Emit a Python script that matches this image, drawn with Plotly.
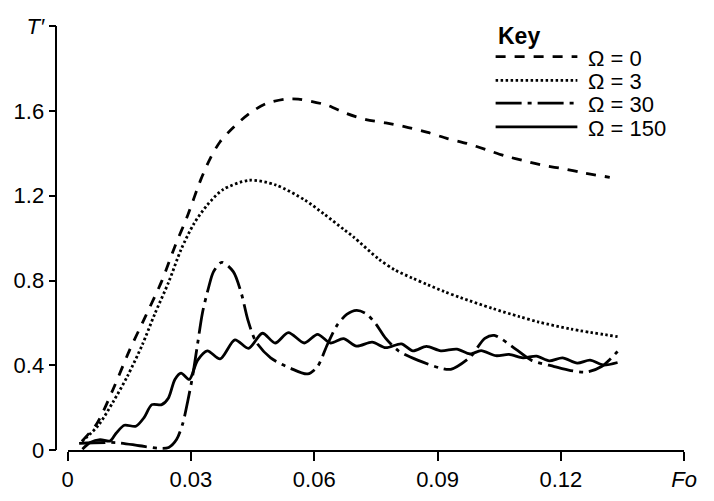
import plotly.graph_objects as go

# Fourier number (Fo) and dimensionless temperature (T') for each rotation rate
fo_omega0 = [0.0035, 0.0071, 0.0111, 0.0150, 0.0190, 0.0229, 0.0261, 0.0292, 0.0324, 0.0348,
             0.0371, 0.0403, 0.0442, 0.0482, 0.0529, 0.0561, 0.0592, 0.0632, 0.0679, 0.0726,
             0.0774, 0.0829, 0.0876, 0.0924, 0.0971, 0.1019, 0.1066, 0.1113, 0.1161, 0.1208,
             0.1255, 0.1319]
t_omega0 = [0.042, 0.124, 0.288, 0.468, 0.633, 0.797, 0.961, 1.107, 1.276, 1.380,
            1.455, 1.522, 1.588, 1.634, 1.656, 1.656, 1.646, 1.627, 1.588, 1.559,
            1.544, 1.522, 1.499, 1.470, 1.447, 1.417, 1.387, 1.364, 1.342, 1.327,
            1.308, 1.287]

fo_omega3 = [0.0035, 0.0075, 0.0111, 0.0146, 0.0182, 0.0212, 0.0246, 0.0276, 0.0307, 0.0340,
             0.0378, 0.0442, 0.0506, 0.0577, 0.0625, 0.0672, 0.0696, 0.0757, 0.0797, 0.0838,
             0.0876, 0.0916, 0.0956, 0.1034, 0.1098, 0.1146, 0.1224, 0.1338]
t_omega3 = [0.040, 0.117, 0.228, 0.350, 0.498, 0.642, 0.793, 0.946, 1.067, 1.157,
            1.229, 1.273, 1.251, 1.180, 1.112, 1.041, 1.005, 0.901, 0.849, 0.812,
            0.780, 0.748, 0.719, 0.668, 0.630, 0.604, 0.571, 0.535]

fo_omega30 = [0.0028, 0.0118, 0.0175, 0.0222, 0.0246, 0.0265, 0.0280, 0.0292, 0.0304, 0.0316,
              0.0328, 0.0343, 0.0355, 0.0375, 0.0403, 0.0423, 0.0438, 0.0458, 0.0494, 0.0542,
              0.0584, 0.0608, 0.0632, 0.0655, 0.0679, 0.0703, 0.0726, 0.0750, 0.0774, 0.0805,
              0.0853, 0.0908, 0.0932, 0.0979, 0.1015, 0.1038, 0.1090, 0.1129, 0.1184, 0.1224,
              0.1263, 0.1299, 0.1338]
t_omega30 = [0.031, 0.035, 0.020, 0.008, 0.012, 0.049, 0.124, 0.228, 0.348, 0.498,
             0.647, 0.767, 0.842, 0.886, 0.842, 0.737, 0.618, 0.512, 0.435, 0.386,
             0.359, 0.394, 0.498, 0.587, 0.640, 0.659, 0.644, 0.595, 0.527, 0.468,
             0.423, 0.386, 0.381, 0.438, 0.527, 0.541, 0.476, 0.423, 0.394, 0.375,
             0.368, 0.394, 0.465]

fo_omega150 = [0.0036, 0.0055, 0.0079, 0.0103, 0.0118, 0.0138, 0.0166, 0.0186, 0.0205, 0.0229,
               0.0245, 0.0261, 0.0276, 0.0296, 0.0316, 0.0340, 0.0371, 0.0407, 0.0440, 0.0474,
               0.0505, 0.0537, 0.0576, 0.0608, 0.0640, 0.0671, 0.0703, 0.0741, 0.0774, 0.0812,
               0.0840, 0.0873, 0.0908, 0.0947, 0.0979, 0.1006, 0.1042, 0.1074, 0.1108, 0.1141,
               0.1172, 0.1204, 0.1240, 0.1271, 0.1303, 0.1338]
t_omega150 = [0.004, 0.035, 0.049, 0.042, 0.079, 0.117, 0.112, 0.153, 0.214, 0.214,
              0.244, 0.333, 0.363, 0.333, 0.423, 0.468, 0.430, 0.520, 0.480, 0.551,
              0.505, 0.554, 0.505, 0.546, 0.505, 0.526, 0.490, 0.509, 0.483, 0.501,
              0.468, 0.489, 0.468, 0.476, 0.453, 0.469, 0.445, 0.451, 0.435, 0.443,
              0.421, 0.435, 0.410, 0.424, 0.401, 0.413]

series_labels = ["\u03a9 = 0", "\u03a9 = 3", "\u03a9 = 30", "\u03a9 = 150"]
series_x = [fo_omega0, fo_omega3, fo_omega30, fo_omega150]
series_y = [t_omega0, t_omega3, t_omega30, t_omega150]
series_dash = ["10px,9px", "2.5px,2.5px", "26px,6px,4px,6px", "solid"]

x_ticks = [0, 0.03, 0.06, 0.09, 0.12, 0.15]
x_ticklabels = ["0", "0.03", "0.06", "0.09", "0.12", "<i>Fo</i>"]
y_ticks = [0, 0.4, 0.8, 1.2, 1.6, 2.0]
y_ticklabels = ["0", "0.4", "0.8", "1.2", "1.6", "<i>T\u2032</i>"]

W, H = 714, 501
FONT = "Liberation Sans, Arial, Helvetica, sans-serif"

fig = go.Figure()
for xs, ys, name, dash in zip(series_x, series_y, series_labels, series_dash):
    fig.add_trace(go.Scatter(
        x=xs, y=ys, mode="lines", name=name, showlegend=False,
        line=dict(color="black", width=2.8, dash=dash, shape="spline", smoothing=0.8),
    ))

# hand-drawn key in the top-right corner
key_x0, key_x1, key_text_x = 503, 587, 596
row_y = [47, 72, 96, 121]
shapes = []
annotations = [dict(x=key_x0 / W, y=(H - 25) / H, xref="paper", yref="paper",
                    text="<b>Key</b>", showarrow=False, xanchor="left", yanchor="middle",
                    font=dict(family=FONT, size=23, color="black"))]
for ry, name, dash in zip(row_y, series_labels, series_dash):
    py = (H - ry) / H
    shapes.append(dict(type="line", xref="paper", yref="paper",
                       x0=key_x0 / W, x1=key_x1 / W, y0=py, y1=py,
                       line=dict(color="black", width=2.8, dash=dash)))
    annotations.append(dict(x=key_text_x / W, y=(H - ry - 1) / H, xref="paper", yref="paper",
                            text=name, showarrow=False, xanchor="left", yanchor="middle",
                            height=22, valign="middle",
                            font=dict(family=FONT, size=22, color="black")))

fig.update_layout(
    width=W, height=H,
    margin=dict(l=0, r=0, t=0, b=0),
    paper_bgcolor="white", plot_bgcolor="white",
    font=dict(family=FONT, size=22, color="black"),
    shapes=shapes, annotations=annotations,
    xaxis=dict(
        domain=[63.3 / W, 696.7 / W], range=[0, 0.15],
        tickvals=x_ticks, ticktext=x_ticklabels,
        ticks="outside", ticklen=9, tickwidth=1.5, tickcolor="black",
        showline=True, linewidth=1.5, linecolor="black",
        showgrid=False, zeroline=False, anchor="y",
    ),
    yaxis=dict(
        domain=[(H - 461) / H, (H - 15) / H], range=[0, 2.0],
        tickvals=y_ticks, ticktext=y_ticklabels,
        ticks="outside", ticklen=7, tickwidth=1.5, tickcolor="black",
        showline=True, linewidth=1.5, linecolor="black",
        showgrid=False, zeroline=False,
        anchor="free", position=51.7 / W,
    ),
)

fig.write_html("out.html")
